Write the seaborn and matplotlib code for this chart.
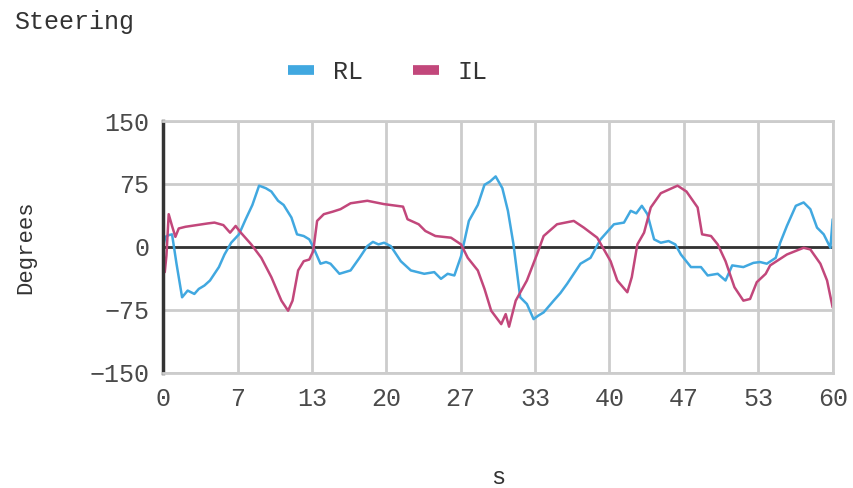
import pandas as pd
import matplotlib
matplotlib.use("Agg")
import matplotlib.pyplot as plt
import seaborn as sns
from matplotlib.lines import Line2D

# RL series (time in s, steering in degrees)
rl_t = [0, 0.2, 0.5, 0.8, 1.2, 1.7, 2.2, 2.8, 3.2, 3.7, 4.2, 4.6, 5.0, 5.5, 6.1,
        6.8, 7.4, 8.0, 8.6, 9.2, 9.7, 10.3, 10.8, 11.5, 12.0, 12.6, 13.1, 13.45,
        14.1, 14.6, 15.0, 15.8, 16.3, 16.8, 17.6, 18.3, 18.8, 19.3, 19.8, 20.4,
        20.7, 21.3, 22.2, 22.8, 23.4, 24.3, 24.9, 25.5, 26.1, 26.7, 27.4, 28.2,
        28.8, 29.3, 29.8, 30.4, 30.9, 31.4, 32.0, 32.6, 33.2, 33.6, 34.1, 35.0,
        35.6, 36.2, 36.8, 37.4, 38.3, 39.2, 39.8, 40.4, 41.3, 41.9, 42.4, 42.9,
        43.4, 44.0, 44.6, 45.3, 45.9, 46.4, 47.3, 48.2, 48.8, 49.7, 50.4, 51.0,
        52.0, 52.9, 53.5, 54.1, 54.9, 55.3, 55.9, 56.7, 57.4, 58.0, 58.6, 59.2,
        59.8, 60.0]
rl_v = [0, 12, 14, 15, -20, -60, -52, -56, -50, -46, -40, -32, -24, -9, 5,
        15, 33, 50, 73, 70, 66, 55, 50, 35, 15, 13, 9, 0,
        -20, -18, -20, -32, -30, -28, -13, 1, 6, 3, 5, 1,
        -5, -17, -28, -30, -32, -30, -38, -32, -34, -11, 31, 50,
        74, 78, 84, 70, 43, 3, -60, -68, -86, -82, -78, -64,
        -55, -44, -32, -20, -13, 9, 18, 27, 29, 43, 40, 49,
        39, 9, 5, 7, 3, -9, -24, -24, -34, -32, -40, -22,
        -24, -19, -18, -20, -13, 5, 25, 49, 53, 45, 23, 15,
        -1, 33]

# IL series
il_t = [0, 0.15, 0.3, 0.5, 0.8, 1.1, 1.4, 2.0, 3.0, 4.0, 4.6, 5.4, 6.0, 6.5,
        6.9, 7.9, 8.8, 9.7, 10.6, 11.2, 11.6, 12.1, 12.6, 13.1, 13.45, 13.8,
        14.4, 15.2, 15.9, 16.8, 18.3, 19.8, 21.5, 21.9, 22.9, 23.5, 24.4, 25.8,
        26.7, 27.3, 28.2, 28.8, 29.4, 30.3, 30.7, 31.0, 31.6, 32.6, 33.5, 34.1,
        35.3, 36.8, 37.7, 38.9, 40.1, 40.7, 41.6, 42.0, 42.5, 43.1, 43.7, 44.6,
        46.1, 46.9, 47.9, 48.3, 49.1, 49.7, 50.4, 51.2, 52.0, 52.6, 53.2, 54.0,
        54.4, 55.9, 57.4, 58.0, 58.9, 59.5, 60.0]
il_v = [-5, -30, -10, 39, 25, 12, 22, 24, 26, 28, 29, 26, 17, 25,
        18, 3, -13, -36, -64, -76, -64, -28, -17, -15, -5, 31,
        39, 42, 45, 52, 55, 51, 48, 33, 27, 19, 13, 11,
        3, -13, -28, -50, -76, -92, -80, -95, -64, -40, -9, 13,
        27, 31, 23, 11, -17, -40, -54, -36, 3, 17, 47, 64,
        73, 66, 47, 15, 13, 3, -17, -48, -64, -62, -42, -32,
        -22, -9, -1, -3, -20, -40, -72]

series_names = ["RL", "IL"]
colors = ["#41a8e0", "#c2477b"]
x_ticks = [0, 20 / 3, 40 / 3, 20, 80 / 3, 100 / 3, 40, 140 / 3, 160 / 3, 60]
x_tick_labels = ["0", "7", "13", "20", "27", "33", "40", "47", "53", "60"]
y_ticks = [-150, -75, 0, 75, 150]

df = pd.concat([
    pd.DataFrame({"s": rl_t, "Degrees": rl_v, "series": "RL"}),
    pd.DataFrame({"s": il_t, "Degrees": il_v, "series": "IL"}),
])

sns.set_theme(style="white")
plt.rcParams["font.family"] = ["Liberation Mono", "DejaVu Sans Mono"]

fig = plt.figure(figsize=(8.54, 4.88), dpi=100)
ax = fig.add_axes([0.191, 0.236, 0.784, 0.516])

sns.lineplot(data=df, x="s", y="Degrees", hue="series", hue_order=series_names,
             palette=colors, linewidth=1.8, ax=ax, legend=False, sort=False,
             estimator=None)

ax.axhline(0, color="#333333", linewidth=2, zorder=1)
ax.set_xlim(0, 60)
ax.set_ylim(-150, 150)
ax.set_xticks(x_ticks)
ax.set_xticklabels(x_tick_labels)
ax.set_yticks(y_ticks)
ax.grid(True, color="#cccccc", linewidth=2)
ax.set_axisbelow(True)
ax.tick_params(axis="both", length=0, labelsize=18, colors="#4a4a4a")
ax.tick_params(axis="x", pad=10)
ax.tick_params(axis="y", pad=10)

for side in ["top", "right", "bottom"]:
    ax.spines[side].set_color("#cccccc")
    ax.spines[side].set_linewidth(2)
ax.spines["left"].set_color("#333333")
ax.spines["left"].set_linewidth(2.5)

ax.set_xlabel("s", fontsize=17, color="#333333", labelpad=40)
ax.set_ylabel("Degrees", fontsize=16, color="#333333", labelpad=38)

fig.text(0.016, 0.955, "Steering", fontsize=18, color="#333333", va="center")

handles = [Line2D([0], [0], color=c, linewidth=7, solid_capstyle="butt")
           for c in colors]
fig.legend(handles, series_names, loc="center", bbox_to_anchor=(0.454, 0.852),
           ncol=2, frameon=False, fontsize=18, handlelength=1.05,
           columnspacing=2.0, handletextpad=0.75, labelcolor="#333333")

fig.savefig("out.png", dpi=100)
